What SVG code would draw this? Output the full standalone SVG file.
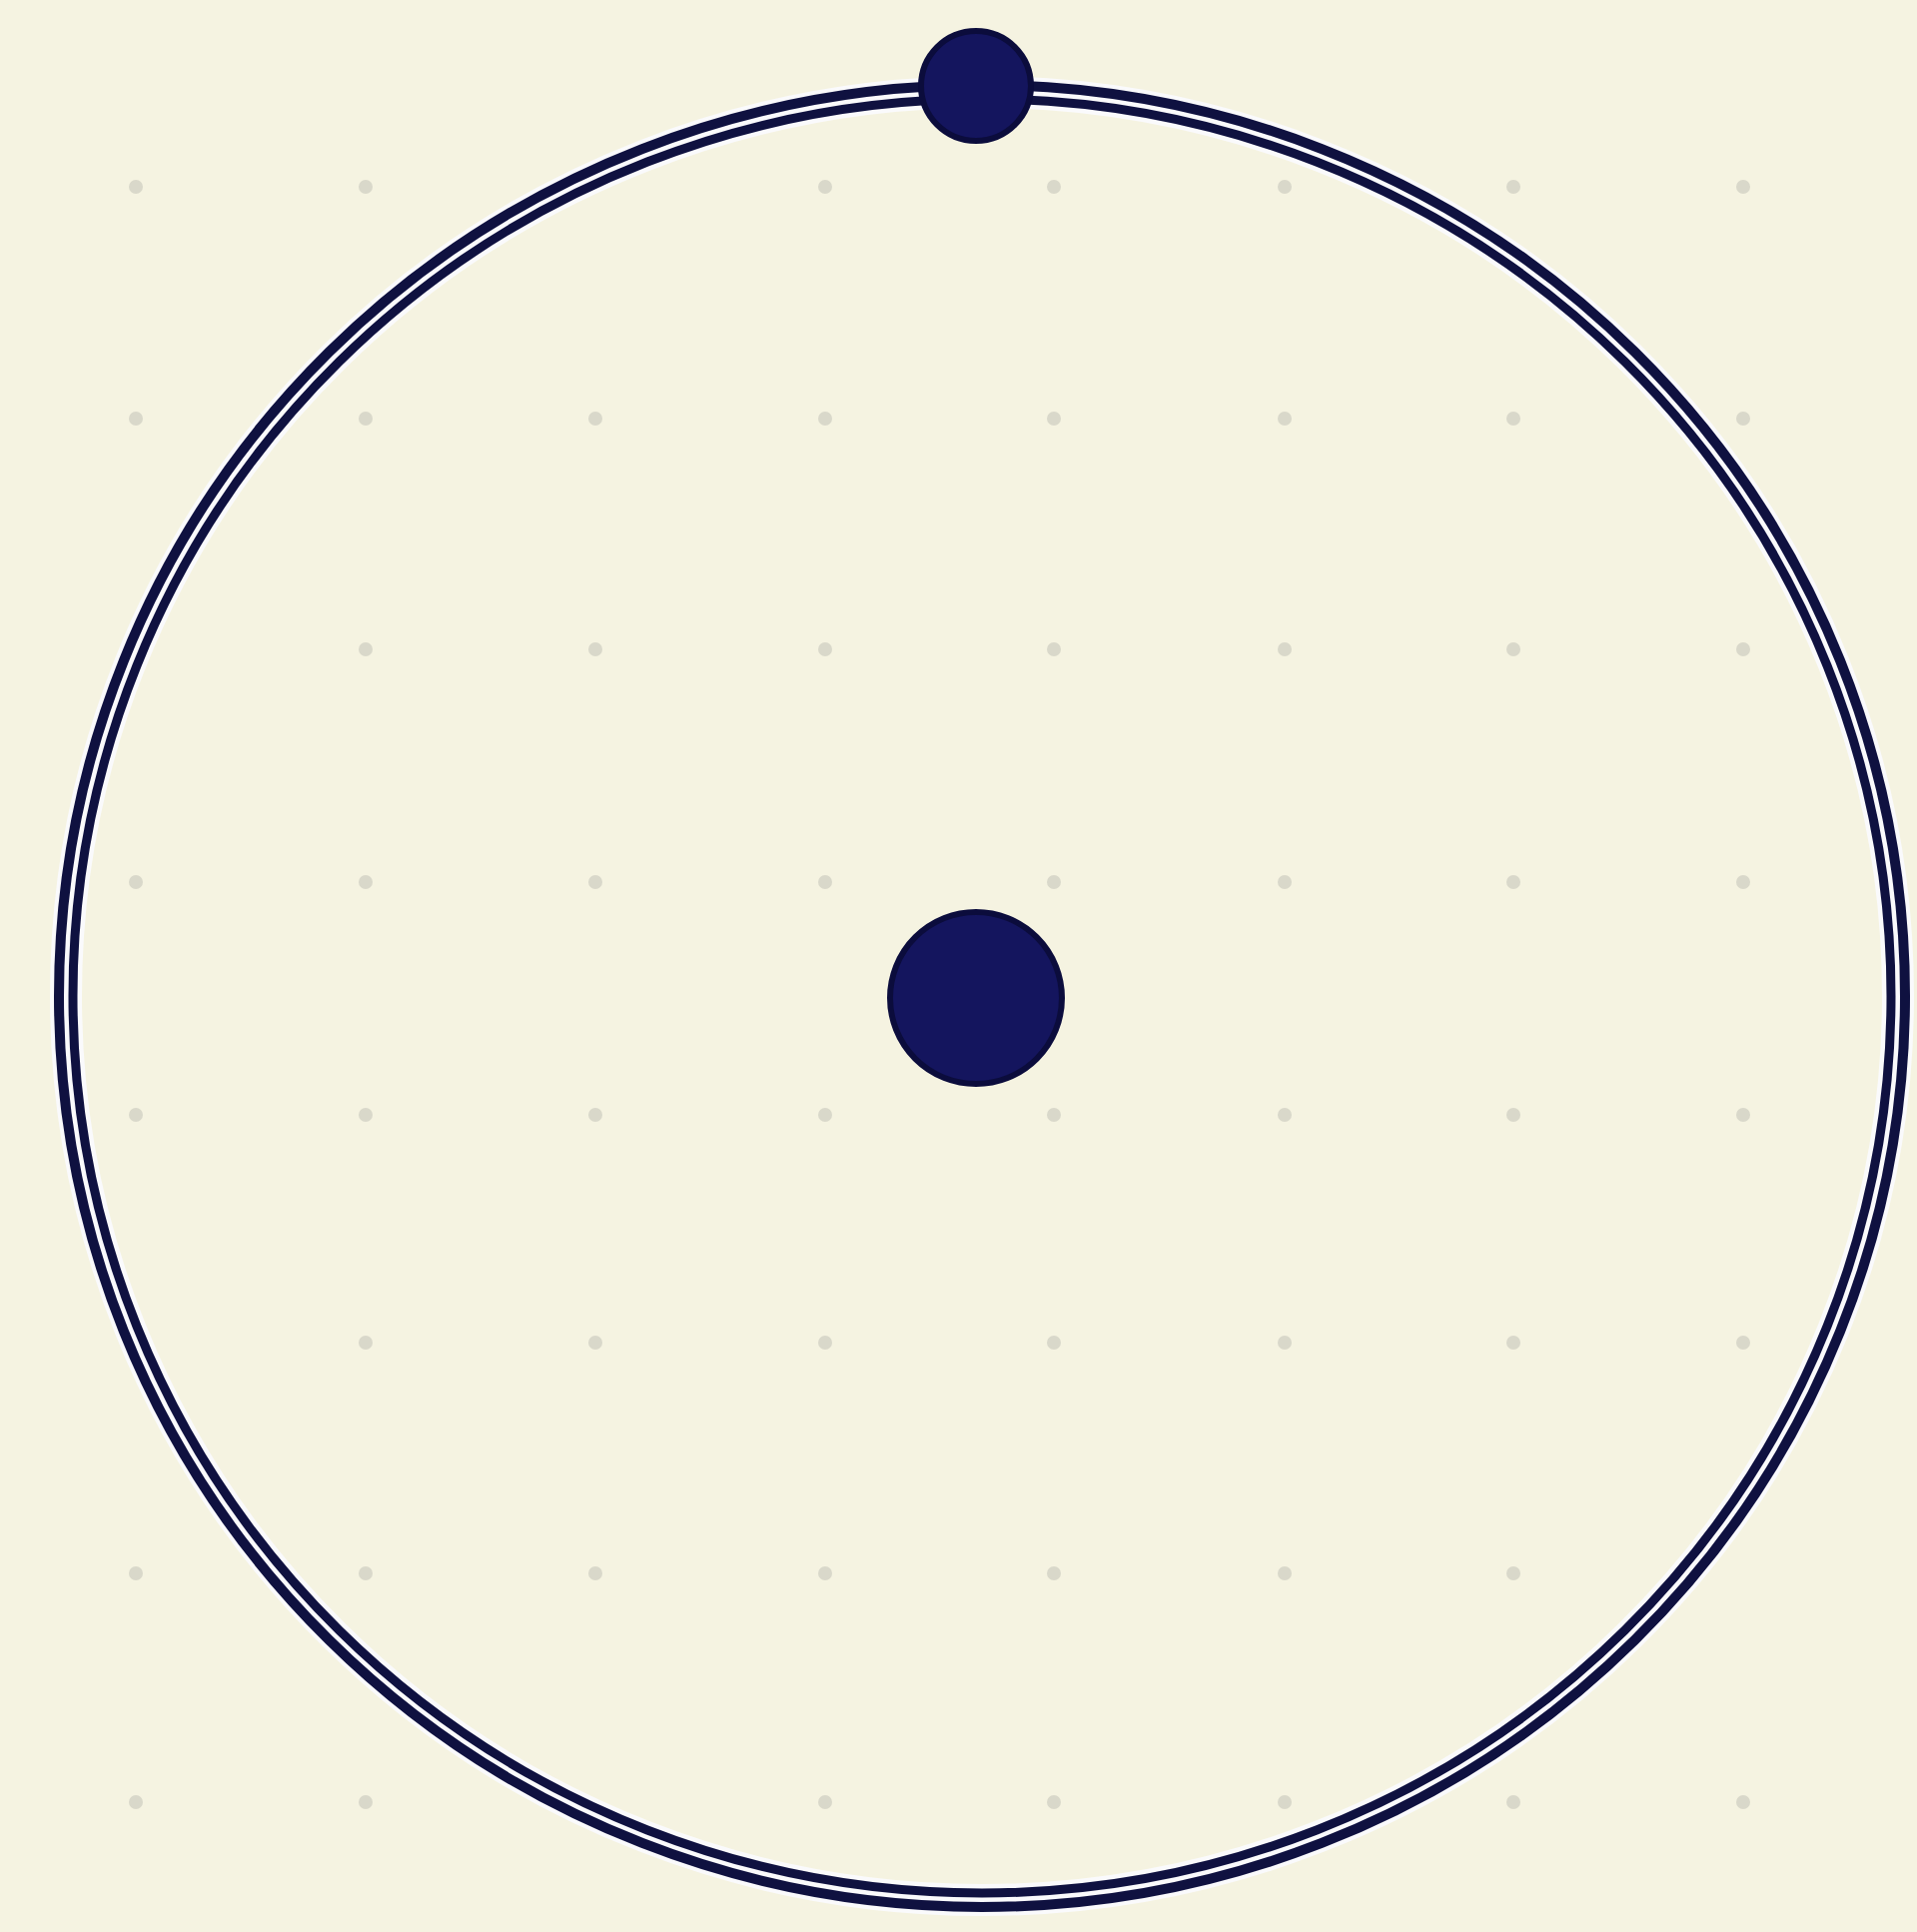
<svg xmlns="http://www.w3.org/2000/svg" width="1919" height="1934" viewBox="0 0 1919 1934">
  <defs>
    <style>
      .bg { fill: #f5f3e1; }
      .mark { fill: #d9d8ca; }
      .halo { fill: none; stroke: #fafafc; stroke-width: 32; }
      .line { fill: none; stroke: #0f1140; }
      .dot { fill: #14155e; stroke: #0b0c3c; stroke-width: 6; }
    </style>
  </defs>
  <rect class="bg" x="0" y="0" width="1919" height="1934"/>
  <g id="grid-marks">
    <circle class="mark" cx="136" cy="187" r="7"/>
    <circle class="mark" cx="366" cy="187" r="7"/>
    <circle class="mark" cx="826" cy="187" r="7"/>
    <circle class="mark" cx="1055" cy="187" r="7"/>
    <circle class="mark" cx="1286" cy="187" r="7"/>
    <circle class="mark" cx="1515" cy="187" r="7"/>
    <circle class="mark" cx="1745" cy="187" r="7"/>

    <circle class="mark" cx="136" cy="419" r="7"/>
    <circle class="mark" cx="366" cy="419" r="7"/>
    <circle class="mark" cx="596" cy="419" r="7"/>
    <circle class="mark" cx="826" cy="419" r="7"/>
    <circle class="mark" cx="1055" cy="419" r="7"/>
    <circle class="mark" cx="1286" cy="419" r="7"/>
    <circle class="mark" cx="1515" cy="419" r="7"/>
    <circle class="mark" cx="1745" cy="419" r="7"/>

    <circle class="mark" cx="366" cy="650" r="7"/>
    <circle class="mark" cx="596" cy="650" r="7"/>
    <circle class="mark" cx="826" cy="650" r="7"/>
    <circle class="mark" cx="1055" cy="650" r="7"/>
    <circle class="mark" cx="1286" cy="650" r="7"/>
    <circle class="mark" cx="1515" cy="650" r="7"/>
    <circle class="mark" cx="1745" cy="650" r="7"/>

    <circle class="mark" cx="136" cy="883" r="7"/>
    <circle class="mark" cx="366" cy="883" r="7"/>
    <circle class="mark" cx="596" cy="883" r="7"/>
    <circle class="mark" cx="826" cy="883" r="7"/>
    <circle class="mark" cx="1055" cy="883" r="7"/>
    <circle class="mark" cx="1286" cy="883" r="7"/>
    <circle class="mark" cx="1515" cy="883" r="7"/>
    <circle class="mark" cx="1745" cy="883" r="7"/>

    <circle class="mark" cx="136" cy="1116" r="7"/>
    <circle class="mark" cx="366" cy="1116" r="7"/>
    <circle class="mark" cx="596" cy="1116" r="7"/>
    <circle class="mark" cx="826" cy="1116" r="7"/>
    <circle class="mark" cx="1055" cy="1116" r="7"/>
    <circle class="mark" cx="1286" cy="1116" r="7"/>
    <circle class="mark" cx="1515" cy="1116" r="7"/>
    <circle class="mark" cx="1745" cy="1116" r="7"/>

    <circle class="mark" cx="366" cy="1344" r="7"/>
    <circle class="mark" cx="596" cy="1344" r="7"/>
    <circle class="mark" cx="826" cy="1344" r="7"/>
    <circle class="mark" cx="1055" cy="1344" r="7"/>
    <circle class="mark" cx="1286" cy="1344" r="7"/>
    <circle class="mark" cx="1515" cy="1344" r="7"/>
    <circle class="mark" cx="1745" cy="1344" r="7"/>

    <circle class="mark" cx="136" cy="1575" r="7"/>
    <circle class="mark" cx="366" cy="1575" r="7"/>
    <circle class="mark" cx="596" cy="1575" r="7"/>
    <circle class="mark" cx="826" cy="1575" r="7"/>
    <circle class="mark" cx="1055" cy="1575" r="7"/>
    <circle class="mark" cx="1286" cy="1575" r="7"/>
    <circle class="mark" cx="1515" cy="1575" r="7"/>

    <circle class="mark" cx="136" cy="1804" r="7"/>
    <circle class="mark" cx="366" cy="1804" r="7"/>
    <circle class="mark" cx="826" cy="1804" r="7"/>
    <circle class="mark" cx="1055" cy="1804" r="7"/>
    <circle class="mark" cx="1286" cy="1804" r="7"/>
    <circle class="mark" cx="1515" cy="1804" r="7"/>
    <circle class="mark" cx="1745" cy="1804" r="7"/>
  </g>
  <g id="connectors">
    <g id="orbit">
      <ellipse class="halo" cx="983" cy="997" rx="917" ry="905"/>
      <ellipse class="line" cx="983" cy="997" rx="924" ry="912" stroke-width="10"/>
      <ellipse class="line" cx="983" cy="997" rx="910" ry="898" stroke-width="9"/>
    </g>
  </g>
  <g id="nucleus">
    <circle class="dot" cx="977" cy="999" r="86"/>
  </g>
  <g id="electron">
    <circle class="dot" cx="977" cy="86" r="55"/>
  </g>
</svg>
